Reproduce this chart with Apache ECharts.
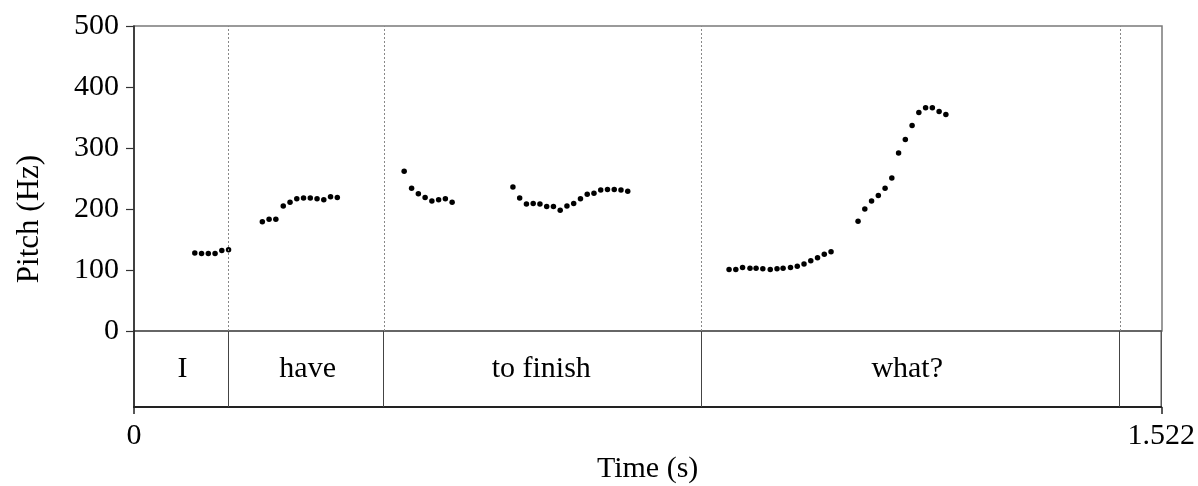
<!DOCTYPE html>
<html>
<head>
<meta charset="utf-8">
<script src="https://cdn.jsdelivr.net/npm/echarts@6/dist/echarts.min.js"></script>
<style>html,body{margin:0;padding:0;background:#fff;}#c{width:1198px;height:486px;}</style>
</head>
<body>
<div id="c"></div>
<script>
// ---- data ----
const timeMin = 0;
const timeMax = 1.522;
const pitchMin = 0;
const pitchMax = 500;
const pitchTicks = [0, 100, 200, 300, 400, 500];
const timeTicks = [0, 1.522];

const tierBoundaries = [0.1436, 0.3710, 0.8358, 1.4554];
const tierLabels = ['I', 'have', 'to finish', 'what?', ''];

const segI_t = [0.090, 0.100, 0.110, 0.120, 0.130, 0.140];
const segI_hz = [128, 127, 127, 127, 132, 133];

const segHave_t = [0.190, 0.200, 0.210, 0.221, 0.231, 0.241, 0.251, 0.261, 0.271, 0.281, 0.291, 0.301];
const segHave_hz = [179, 183, 183, 205, 211, 217, 218, 218, 217, 215, 220, 219];

const segTo_t = [0.400, 0.411, 0.421, 0.431, 0.441, 0.451, 0.461, 0.471];
const segTo_hz = [262, 234, 225, 219, 213, 215, 217, 211];

const segFinish_t = [0.561, 0.571, 0.581, 0.591, 0.601, 0.611, 0.621, 0.631, 0.641, 0.651, 0.661, 0.671, 0.681, 0.691, 0.701, 0.711, 0.721, 0.731];
const segFinish_hz = [236, 218, 208, 209, 208, 204, 204, 198, 205, 209, 217, 224, 226, 231, 232, 232, 231, 229];

const segWhatA_t = [0.881, 0.891, 0.901, 0.912, 0.921, 0.931, 0.942, 0.952, 0.961, 0.972, 0.982, 0.992, 1.002, 1.012, 1.022, 1.032];
const segWhatA_hz = [101, 101, 104, 103, 103, 102, 101, 102, 103, 104, 106, 110, 115, 120, 126, 130];

const segWhatB_t = [1.072, 1.082, 1.092, 1.102, 1.112, 1.122, 1.132, 1.142, 1.152, 1.162, 1.172, 1.182, 1.192, 1.202];
const segWhatB_hz = [180, 200, 213, 222, 234, 251, 292, 314, 337, 358, 366, 366, 360, 355];

// ---- build ----
const segments = [
  [segI_t, segI_hz], [segHave_t, segHave_hz], [segTo_t, segTo_hz],
  [segFinish_t, segFinish_hz], [segWhatA_t, segWhatA_hz], [segWhatB_t, segWhatB_hz]
];
const pitchPoints = [];
segments.forEach(([ts, hs]) => ts.forEach((t, i) => pitchPoints.push([t, hs[i]])));

const edges = [timeMin].concat(tierBoundaries, [timeMax]);
const tierLabelPoints = tierLabels.map((lab, i) => ({
  value: [(edges[i] + edges[i + 1]) / 2, 0.5], label: { formatter: lab }
}));

const FONT = "'Liberation Serif', 'DejaVu Serif', serif";
const FS = 30;

const chart = echarts.init(document.getElementById('c'), null, { renderer: 'canvas' });
chart.setOption({
  animation: false,
  backgroundColor: '#fff',
  grid: [
    { left: 134, top: 26, width: 1028, height: 305, show: true, borderColor: '#7a7a7a', borderWidth: 1.5, backgroundColor: 'transparent' },
    { left: 134, top: 331, width: 1028, height: 76, show: true, borderColor: '#555', borderWidth: 1.5, backgroundColor: 'transparent' }
  ],
  xAxis: [
    { gridIndex: 0, type: 'value', min: timeMin, max: timeMax,
      axisLine: { show: false }, axisTick: { show: false }, axisLabel: { show: false }, splitLine: { show: false } },
    { gridIndex: 1, type: 'value', min: timeMin, max: timeMax, position: 'bottom',
      axisLine: { show: true, onZero: false, lineStyle: { color: '#222', width: 2 } },
      axisTick: { show: true, length: 7, customValues: timeTicks, lineStyle: { color: '#222', width: 1.5 } },
      axisLabel: { show: true, customValues: timeTicks, formatter: v => (v === 0 ? '0' : v.toFixed(3)),
        fontFamily: FONT, fontSize: FS, color: '#000', margin: 14 },
      splitLine: { show: false },
      name: 'Time (s)', nameLocation: 'middle', nameGap: 47,
      nameTextStyle: { fontFamily: FONT, fontSize: FS, color: '#000' } }
  ],
  yAxis: [
    { gridIndex: 0, type: 'value', min: pitchMin, max: pitchMax, interval: 100,
      axisLine: { show: true, lineStyle: { color: '#222', width: 1.5 } },
      axisTick: { show: true, length: 8, lineStyle: { color: '#333', width: 1.2 } },
      axisLabel: { fontFamily: FONT, fontSize: FS, color: '#000', margin: 15,
        formatter: v => (pitchTicks.indexOf(v) >= 0 ? String(v) : '') },
      splitLine: { show: false } },
    { gridIndex: 1, type: 'value', min: 0, max: 1,
      axisLine: { show: true, lineStyle: { color: '#222', width: 1.5 } },
      axisTick: { show: false }, axisLabel: { show: false }, splitLine: { show: false } }
  ],
  graphic: [
    { type: 'text', x: 30, y: 219, rotation: Math.PI / 2,
      style: { text: 'Pitch (Hz)', font: '31px ' + FONT, fill: '#000', textAlign: 'center', textVerticalAlign: 'middle' } }
  ],
  series: [
    { type: 'scatter', xAxisIndex: 0, yAxisIndex: 0, data: pitchPoints,
      symbol: 'circle', symbolSize: 5.5, itemStyle: { color: '#000', opacity: 1 },
      markLine: { silent: true, symbol: ['none', 'none'], label: { show: false },
        lineStyle: { type: [2, 2], color: '#888', width: 1 },
        data: tierBoundaries.map(b => ({ xAxis: b })) } },
    { type: 'scatter', xAxisIndex: 1, yAxisIndex: 1, data: tierLabelPoints,
      symbolSize: 0, itemStyle: { color: 'transparent', opacity: 1 },
      label: { show: true, position: 'inside', fontFamily: FONT, fontSize: FS, color: '#000',
        textBorderWidth: 0, opacity: 1 },
      markLine: { silent: true, symbol: ['none', 'none'], label: { show: false },
        lineStyle: { type: 'solid', color: '#444', width: 1 },
        data: tierBoundaries.map(b => ({ xAxis: b })) } }
  ]
});
</script>
</body>
</html>
